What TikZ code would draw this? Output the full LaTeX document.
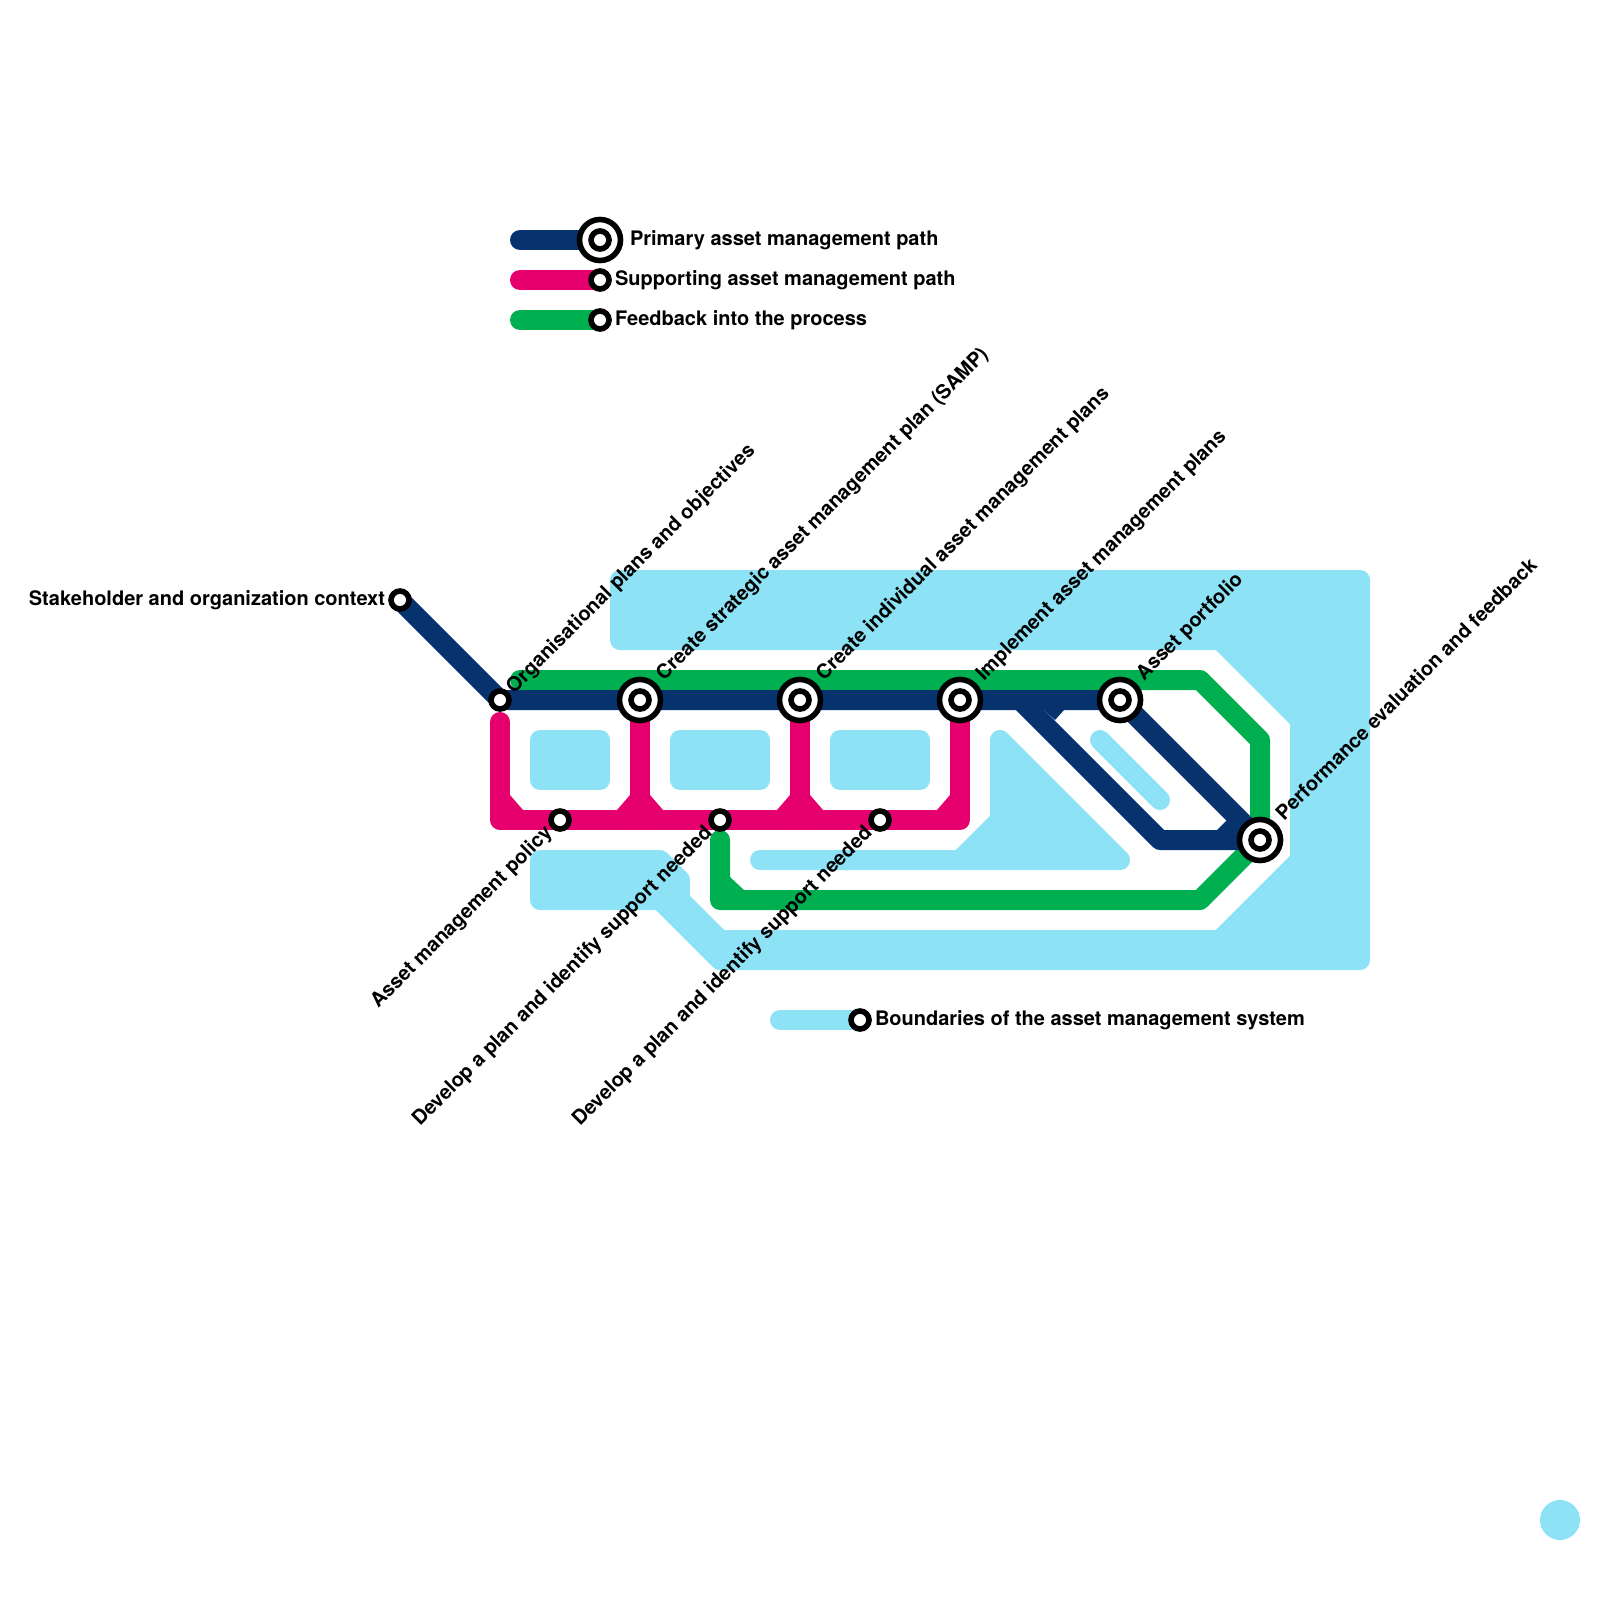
\documentclass[tikz,border=0pt]{standalone}
\usepackage{fontspec}
\setmainfont{TeX Gyre Heros}
\usetikzlibrary{backgrounds}
\definecolor{navyline}{HTML}{06326E}
\definecolor{pinkline}{HTML}{E6006E}
\definecolor{greenline}{HTML}{00B050}
\definecolor{paleline}{HTML}{8DE2F5}
\begin{document}
\begin{tikzpicture}[
    x=0.5pt, y=-0.5pt,
    smallstop/.style={circle, draw=black, fill=white, line width=2.8pt, inner sep=0pt, outer sep=0pt, minimum size=9pt},
    bigstop/.style={circle, draw=black, fill=white, line width=2.8pt, inner sep=0pt, outer sep=0pt, minimum size=20.5pt},
    track/.style={line width=10pt, line cap=round, line join=round},
    zone/.style={draw=paleline, fill=paleline, line width=10pt, line join=round, line cap=round},
    lab/.style={font=\bfseries\fontsize{10pt}{12pt}\selectfont, text=black, inner sep=0pt, outer sep=0pt},
    uplab/.style={lab, anchor=base west, rotate=45},
    downlab/.style={lab, anchor=base east, rotate=45}
]
\useasboundingbox (0,0) rectangle (1600,1600);

% stops of the main line
\foreach \nm/\px in {samp/640, plans/800, impl/960, port/1120} {
    \node[bigstop] (\nm) at (\px,700) {};
    \node[smallstop] (\nm in) at (\nm) {};
}
\node[bigstop] (perf) at (1260,840) {};
\node[smallstop] (perf in) at (perf) {};
\node[smallstop] (ctx) at (400,600) {};
\node[smallstop] (org) at (500,700) {};

% stops of the supporting line
\node[smallstop] (pol) at (560,820) {};
\node[smallstop] (devA) at (720,820) {};
\node[smallstop] (devB) at (880,820) {};

% legend
\node[bigstop] (keyprim) at (600,240) {};
\node[smallstop] (keyprim in) at (keyprim) {};
\node[smallstop] (keysupp) at (600,280) {};
\node[smallstop] (keyfeed) at (600,320) {};
\node[smallstop] (keybound) at (860,1020) {};
\coordinate (keyprims) at (520,240);
\coordinate (keysupps) at (520,280);
\coordinate (keyfeeds) at (520,320);
\coordinate (keybounds) at (780,1020);

% corner points of the tracks
\coordinate (ga) at (520,680);
\coordinate (gb) at (1200,680);
\coordinate (gc) at (1260,740);
\coordinate (gd) at (720,840);
\coordinate (ge) at (720,900);
\coordinate (gf) at (1200,900);
\coordinate (pa) at (500,722);
\coordinate (pb) at (500,820);
\coordinate (pc) at (960,820);
\coordinate (na) at (1020,700);
\coordinate (nb) at (1160,840);

\begin{scope}[on background layer]
% boundaries
\draw[zone] (620,580) -- (1360,580) -- (1360,960) -- (720,960) -- (660,900) -- (540,900) -- (540,860) -- (660,860) -- (680,880) -- (680,900) -- (720,940) -- (1220,940) -- (1300,860) -- (1300,720) -- (1220,640) -- (620,640) -- cycle;
\foreach \px/\qx in {540/600, 680/760, 840/920} {
    \draw[zone] (\px,740) rectangle (\qx,780);
}
\draw[zone] (760,860) -- (960,860) -- (1000,820) -- (1000,740) -- (1120,860) -- cycle;
\draw[zone] (1100,740) -- (1160,800);
\draw[track, paleline] (keybounds) -- (keybound.center);

% feedback
\draw[track, greenline] (ga) -- (gb) -- (gc) -- (perf.center);
\draw[track, greenline] (gd) -- (ge) -- (gf) -- (perf.center);
\fill[greenline] (730,877) -- (744,890) -- (730,890) -- cycle;
\draw[track, greenline] (keyfeeds) -- (keyfeed.center);

% supporting
\draw[track, pinkline] (pa) -- (pb) -- (pc) -- (impl.center);
\draw[track, pinkline] (samp.center) -- (samp.center |- pb);
\draw[track, pinkline] (plans.center) -- (plans.center |- pb);
\fill[pinkline] (510,795) -- (523,810) -- (510,810) -- cycle;
\foreach \px in {640, 800} {
    \fill[pinkline] (\px-10,795) -- (\px-23,810) -- (\px+23,810) -- (\px+10,795) -- cycle;
}
\fill[pinkline] (950,795) -- (937,810) -- (950,810) -- cycle;
\draw[track, pinkline] (keysupps) -- (keysupp.center);

% primary
\draw[track, navyline] (ctx.center) -- (org.center) -- (port.center) -- (perf.center);
\draw[track, navyline] (na) -- (nb) -- (perf.center);
\fill[navyline] (1044,710) -- (1064,710) -- (1055,720) -- cycle;
\fill[navyline] (1217,830) -- (1227,820) -- (1237,830) -- cycle;
\draw[track, navyline] (keyprims) -- (keyprim.center);
\end{scope}

% spare dot
\node[circle, fill=paleline, inner sep=0pt, minimum size=20pt] (dot) at (1560,1520) {};

% labels
\node[lab, anchor=base east] (ctxlab) at (385,605) {Stakeholder and organization context};
\node[uplab] (orglab) at (514,694) {Organisational plans and objectives};
\node[uplab] (samplab) at (664,681) {Create strategic asset management plan (SAMP)};
\node[uplab] (planslab) at (824,681) {Create individual asset management plans};
\node[uplab] (impllab) at (984,681) {Implement asset management plans};
\node[uplab] (portlab) at (1144,681) {Asset portfolio};
\node[uplab] (perflab) at (1284,821) {Performance evaluation and feedback};
\node[downlab] (pollab) at (553,834) {Asset management policy};
\node[downlab] (devAlab) at (713,834) {Develop a plan and identify support needed};
\node[downlab] (devBlab) at (873,834) {Develop a plan and identify support needed};
\node[lab, anchor=base west] (keyprimlab) at (630,245) {Primary asset management path};
\node[lab, anchor=base west] (keysupplab) at (615,285) {Supporting asset management path};
\node[lab, anchor=base west] (keyfeedlab) at (615,325) {Feedback into the process};
\node[lab, anchor=base west] (keyboundlab) at (875,1025) {Boundaries of the asset management system};

\end{tikzpicture}
\end{document}
